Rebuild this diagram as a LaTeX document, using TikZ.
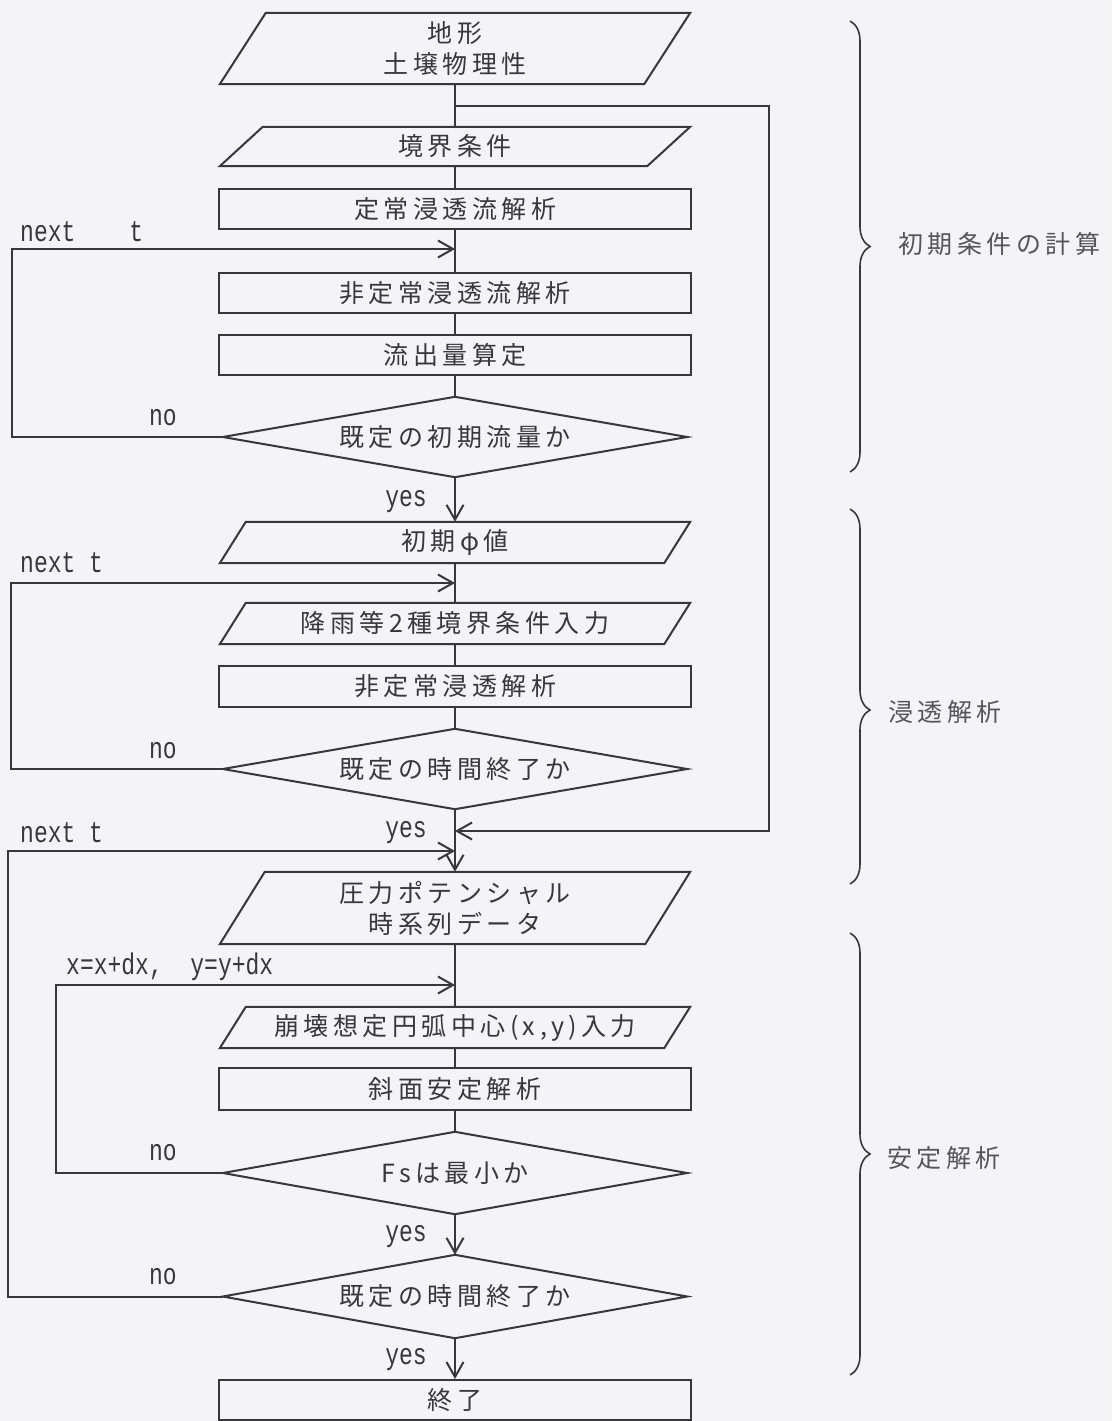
\documentclass[tikz,border=0pt]{standalone}
\usepackage{fontspec}
\newfontfamily\jp[LetterSpace=18]{Noto Sans CJK JP}
\newfontfamily\mono{Liberation Mono}
\usetikzlibrary{arrows.meta,decorations.pathreplacing}
\definecolor{ink}{RGB}{55,55,60}
\definecolor{paper}{RGB}{244,244,246}
\definecolor{txt}{RGB}{55,55,60}
\definecolor{txtlight}{RGB}{85,85,90}
\tikzset{
  jpfont/.style={font=\jp\fontsize{25}{31}\selectfont, text=txt},
  holder/.style={jpfont, inner sep=0pt, align=center},
  box/.style={holder, draw=ink, line width=2pt, minimum width=472pt, minimum height=40pt},
  lbl/.style={font=\mono\fontsize{23}{23}\selectfont, text=txt, inner sep=0pt},
  conn/.style={draw=ink, line width=2pt},
  arr/.style={conn, -{Straight Barb[length=15pt,width=17pt,line width=2pt]}},
  brc/.style={draw=ink, line width=1.6pt, decorate},
  grp/.style={jpfont, text=txtlight, anchor=west, inner sep=0pt}
}
\newcommand\tall[1]{\scalebox{1}[1.3]{#1}}
\newcommand\parabox[2]{\draw[ink, line width=2pt, line join=miter] ([xshift=#2]#1.north west) -- (#1.north east) -- ([xshift=-#2]#1.south east) -- (#1.south west) -- cycle;}
\newcommand\diabox[1]{\draw[ink, line width=2pt] (#1.north) -- (#1.east) -- (#1.south) -- (#1.west) -- cycle;}
\begin{document}
\begin{tikzpicture}[x=1pt,y=-1pt]
\fill[paper] (0,0) rectangle (1112,1421);
\useasboundingbox (0,0) rectangle (1112,1421);

% shapes
\node[holder, minimum width=470pt, minimum height=71pt] (p1) at (455,48.5) {地形\\土壌物理性};
\parabox{p1}{46pt}
\node[holder, minimum width=470pt, minimum height=39pt] (p2) at (455,146.5) {境界条件};
\parabox{p2}{43pt}
\node[box] (r1) at (455,209) {定常浸透流解析};
\node[box] (r2) at (455,293) {非定常浸透流解析};
\node[box] (r3) at (455,355) {流出量算定};
\node[holder, minimum width=464pt, minimum height=80pt] (d1) at (455,437) {既定の初期流量か};
\diabox{d1}
\node[holder, minimum width=470pt, minimum height=41pt] (p3) at (455,542.5) {初期φ値};
\parabox{p3}{26pt}
\node[holder, minimum width=470pt, minimum height=41pt] (p4) at (455,623.5) {降雨等2種境界条件入力};
\parabox{p4}{26pt}
\node[box, minimum height=41pt] (r4) at (455,686.5) {非定常浸透解析};
\node[holder, minimum width=464pt, minimum height=80pt] (d2) at (455,769) {既定の時間終了か};
\diabox{d2}
\node[holder, minimum width=470pt, minimum height=72pt] (p5) at (455,908) {圧力ポテンシャル\\時系列データ};
\parabox{p5}{45pt}
\node[holder, minimum width=470pt, minimum height=41pt] (p6) at (455,1027.5) {崩壊想定円弧中心(x,y)入力};
\parabox{p6}{26pt}
\node[box, minimum height=42pt] (r5) at (455,1089) {斜面安定解析};
\node[holder, minimum width=464pt, minimum height=82pt] (d3) at (455,1173) {Fsは最小か};
\diabox{d3}
\node[holder, minimum width=464pt, minimum height=83pt] (d4) at (455,1296.5) {既定の時間終了か};
\diabox{d4}
\node[box] (r6) at (455,1400) {終了};

% junction coordinates
\coordinate (b1) at (455,106);
\coordinate (b2) at (769,106);
\coordinate (b3) at (769,831);
\coordinate (j2) at (455,831);
\coordinate (j1) at (455,249);
\coordinate (j3) at (455,583);
\coordinate (j4) at (455,851);
\coordinate (j5) at (455,985);
\coordinate (l1a) at (12,437);
\coordinate (l1b) at (12,249);
\coordinate (l2a) at (11,769);
\coordinate (l2b) at (11,583);
\coordinate (l3a) at (56,1173);
\coordinate (l3b) at (56,985);
\coordinate (l4a) at (8,1296.5);
\coordinate (l4b) at (8,851);

% connectors
\draw[conn] (p1.south) -- (p2.north);
\draw[arr] (b1) -- (b2) -- (b3) -- (j2);
\draw[conn] (p2.south) -- (r1.north);
\draw[conn] (r1.south) -- (r2.north);
\draw[conn] (r2.south) -- (r3.north);
\draw[conn] (r3.south) -- (d1.north);
\draw[arr] (d1.west) -- (l1a) -- (l1b) -- (j1);
\draw[arr] (d1.south) -- (p3.north);
\draw[conn] (p3.south) -- (p4.north);
\draw[conn] (p4.south) -- (r4.north);
\draw[conn] (r4.south) -- (d2.north);
\draw[arr] (d2.west) -- (l2a) -- (l2b) -- (j3);
\draw[arr] (d2.south) -- (p5.north);
\draw[conn] (p5.south) -- (p6.north);
\draw[conn] (p6.south) -- (r5.north);
\draw[conn] (r5.south) -- (d3.north);
\draw[arr] (d3.west) -- (l3a) -- (l3b) -- (j5);
\draw[arr] (d3.south) -- (d4.north);
\draw[arr] (d4.west) -- (l4a) -- (l4b) -- (j4);
\draw[arr] (d4.south) -- (r6.north);

% labels
\node[lbl, anchor=west] (n1) at (20,232) {\tall{next\hspace{54pt}t}};
\node[lbl] (no1) at (163,418) {\tall{no}};
\node[lbl] (y1) at (406,502) {\tall{yes}};
\node[lbl, anchor=west] (n2) at (20,563) {\tall{next t}};
\node[lbl] (no2) at (163,751) {\tall{no}};
\node[lbl, anchor=west] (n3) at (20,833) {\tall{next t}};
\node[lbl] (y2) at (406,833) {\tall{yes}};
\node[lbl, anchor=west] (n4) at (66,967) {\tall{x=x+dx,\ \ y=y+dx}};
\node[lbl] (no3) at (163,1153) {\tall{no}};
\node[lbl] (y3) at (406,1237) {\tall{yes}};
\node[lbl] (no4) at (163,1277) {\tall{no}};
\node[lbl] (y4) at (406,1360) {\tall{yes}};

% braces
\coordinate (g1a) at (850,21);
\coordinate (g1b) at (850,472);
\coordinate (g2a) at (850,509);
\coordinate (g2b) at (850,884);
\coordinate (g3a) at (850,933);
\coordinate (g3b) at (850,1375);
\draw[brc, decoration={brace, amplitude=20pt}] (g1a) -- (g1b);
\draw[brc, decoration={brace, amplitude=20pt, aspect=0.536}] (g2a) -- (g2b);
\draw[brc, decoration={brace, amplitude=20pt}] (g3a) -- (g3b);
\node[grp] (t1) at (898,244) {初期条件の計算};
\node[grp] (t2) at (888,712) {浸透解析};
\node[grp] (t3) at (887,1158) {安定解析};
\end{tikzpicture}
\end{document}
